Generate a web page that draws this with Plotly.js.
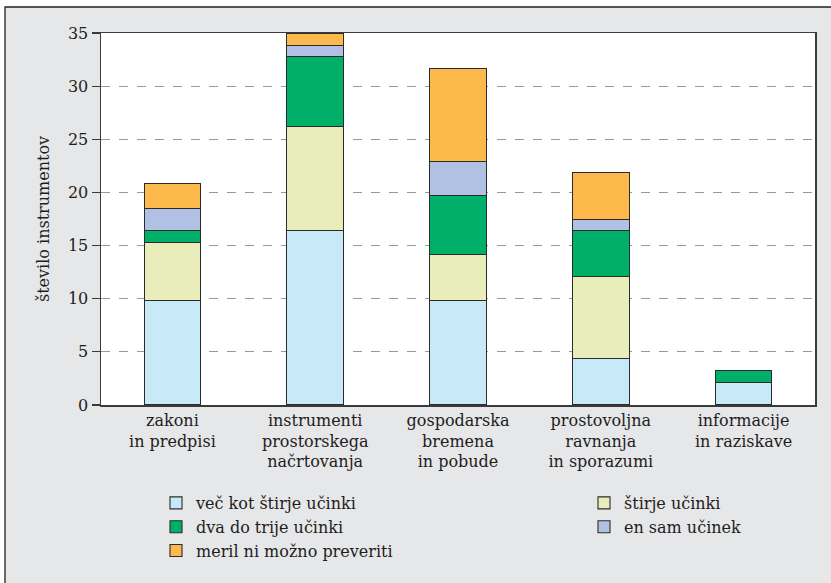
<!DOCTYPE html>
<html><head><meta charset="utf-8">
<script src="https://cdn.plot.ly/plotly-3.0.1.min.js"></script>
<style>html,body{margin:0;padding:0;background:#fff}</style>
</head><body><div id="chart" style="width:831px;height:583px"></div>
<script>
const categories = ["zakoni<br>in predpisi", "instrumenti<br>prostorskega<br>načrtovanja", "gospodarska<br>bremena<br>in pobude", "prostovoljna<br>ravnanja<br>in sporazumi", "informacije<br>in raziskave"];
const vecKotStirje = [9.8, 16.4, 9.8, 4.35, 2.15];
const stirje = [5.5, 9.8, 4.4, 7.7, 0];
const dvaDoTrije = [1.1, 6.55, 5.5, 4.35, 1.1];
const enSam = [2.1, 1.07, 3.2, 1.05, 0];
const merilNi = [2.3, 1.17, 8.8, 4.4, 0];
const seriesNames = ["več kot štirje učinki", "štirje učinki", "dva do trije učinki", "en sam učinek", "meril ni možno preveriti"];
const yTicks = [0, 5, 10, 15, 20, 25, 30, 35];

const colors = ["#c8e9f8", "#e9edb9", "#00b068", "#b1c1e3", "#fdb94c"];
const legendsFor = ["legend", "legend2", "legend", "legend2", "legend"];
const values = [vecKotStirje, stirje, dvaDoTrije, enSam, merilNi];
const serif = "DejaVu Serif";

const traces = values.map((v, i) => ({
  type: "bar", x: categories, y: v, name: seriesNames[i],
  legend: legendsFor[i],
  marker: {color: colors[i], line: {color: "#2b2b2b", width: 1.1}},
  hoverinfo: "skip"
}));

const L = 101, R = 815, T = 33, B = 405;
const W = 831, H = 583;
const px2x = p => (p - L) / (R - L);
const py2y = p => (B - p) / (B - T);

const legendBase = {
  xanchor: "left", yanchor: "top",
  orientation: "v", bgcolor: "rgba(0,0,0,0)", borderwidth: 0,
  font: {size: 16, family: serif, color: "#1f1c1d"},
  tracegroupgap: 0, traceorder: "normal", itemclick: false, itemdoubleclick: false
};

const layout = {
  width: W, height: H,
  margin: {l: L, r: W - R, t: T, b: H - B, pad: 0, autoexpand: false},
  barmode: "stack", bargap: 0.604,
  paper_bgcolor: "#ffffff", plot_bgcolor: "rgba(0,0,0,0)",
  font: {family: serif, size: 16, color: "#1f1c1d"},
  showlegend: true,
  xaxis: {
    showline: true, linecolor: "#3a3a3a", linewidth: 1.5, mirror: true,
    ticks: "", showgrid: false, tickfont: {size: 16, family: serif, color: "#1f1c1d"},
    fixedrange: true
  },
  yaxis: {
    range: [0, 35], tickvals: yTicks, ticktext: yTicks.map(String),
    showline: true, linecolor: "#3a3a3a", linewidth: 1.5, mirror: true,
    ticks: "outside", ticklen: 8, tickcolor: "#3a3a3a", tickwidth: 1.2,
    showgrid: true, gridcolor: "#9a9a9a", griddash: "dash", gridwidth: 1,
    zeroline: false,
    tickfont: {size: 16, family: serif, color: "#1f1c1d"},
    title: {text: "število instrumentov", font: {size: 16, family: serif, color: "#1f1c1d"}, standoff: 14},
    fixedrange: true
  },
  legend: Object.assign({}, legendBase, {x: px2x(156), y: py2y(486)}),
  legend2: Object.assign({}, legendBase, {x: px2x(584), y: py2y(486)}),
  shapes: [
    {type: "rect", xref: "paper", yref: "paper", layer: "below",
     x0: px2x(5), x1: px2x(840), y0: py2y(600), y1: py2y(7),
     fillcolor: "#e6e7e8", line: {color: "#231f20", width: 1.3}},
    {type: "rect", xref: "paper", yref: "paper", layer: "below",
     x0: 0, x1: 1, y0: 0, y1: 1, fillcolor: "#ffffff", line: {width: 0}}
  ]
};

Plotly.newPlot("chart", traces, layout, {displayModeBar: false, staticPlot: true});
</script></body></html>
